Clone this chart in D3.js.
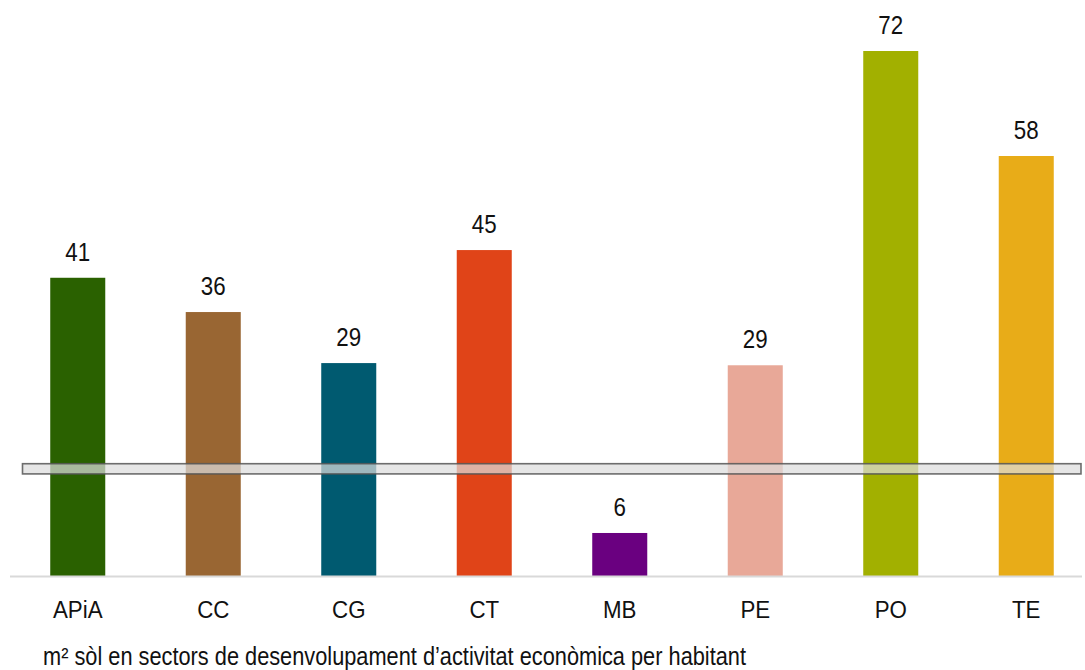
<!DOCTYPE html>
<html>
<head>
<meta charset="utf-8">
<script src="https://cdn.jsdelivr.net/npm/d3@7"></script>
<style>
  html, body { margin: 0; padding: 0; background: #fff; }
  svg { display: block; }
  text { font-family: "Liberation Sans Narrow", "Arial Narrow", "Liberation Sans", Arial, sans-serif; fill: #111; }
</style>
</head>
<body>
<svg id="chart" width="1085" height="670"></svg>
<script>
const categories = ["APiA", "CC", "CG", "CT", "MB", "PE", "PO", "TE"];
const values = [40.9, 36.2, 29.2, 44.7, 5.9, 28.9, 72.0, 57.6];
const colors = ["#2a6100", "#996633", "#005a70", "#e04418", "#6a0080", "#e8a898", "#a2b000", "#e8ac18"];
const referenceBand = [14.0, 15.4];
const footnote = "m² sòl en sectors de desenvolupament d’activitat econòmica per habitant";

const svg = d3.select("#chart");

const x = d3.scaleBand()
  .domain(categories)
  .range([10, 1094])
  .paddingInner(0.594)
  .paddingOuter(0.297);

const y = d3.scaleLinear()
  .domain([0, 72])
  .range([576, 51]);

const data = categories.map((c, i) => ({ cat: c, value: values[i], color: colors[i] }));

// bars
svg.append("g").selectAll("rect")
  .data(data)
  .join("rect")
  .attr("x", d => x(d.cat))
  .attr("width", x.bandwidth())
  .attr("y", d => y(d.value))
  .attr("height", d => y(0) - y(d.value))
  .attr("fill", d => d.color);

// value labels
svg.append("g").selectAll("text")
  .data(data)
  .join("text")
  .attr("transform", d => `translate(${x(d.cat) + x.bandwidth() / 2},${y(d.value) - 17}) scale(0.86,1)`)
  .attr("text-anchor", "middle")
  .attr("font-size", 26)
  .text(d => d3.format(".0f")(d.value));

// baseline axis
const xAxis = d3.axisBottom(x).tickSize(0);
const gx = svg.append("g")
  .attr("transform", `translate(0,${y(0)})`)
  .call(xAxis);
gx.select(".domain").attr("d", "M10,0.5H1082").attr("stroke", "#d9d9d9").attr("stroke-width", 2);
gx.selectAll(".tick text")
  .attr("font-size", 24)
  .attr("font-family", null)
  .attr("fill", "#111")
  .attr("y", 42)
  .attr("dy", 0)
  .attr("transform", "scale(0.93,1)");

// reference band
svg.append("rect")
  .attr("x", 22.5)
  .attr("width", 1058.5)
  .attr("y", y(referenceBand[1]))
  .attr("height", y(referenceBand[0]) - y(referenceBand[1]))
  .attr("fill", "#dcdcdc")
  .attr("fill-opacity", 0.72)
  .attr("stroke", "#555")
  .attr("stroke-opacity", 0.85)
  .attr("stroke-width", 1.6);

// footnote
svg.append("text")
  .attr("x", 43)
  .attr("y", 665)
  .attr("font-size", 25.5)
  .attr("textLength", 703)
  .attr("lengthAdjust", "spacingAndGlyphs")
  .text(footnote);
</script>
</body>
</html>
